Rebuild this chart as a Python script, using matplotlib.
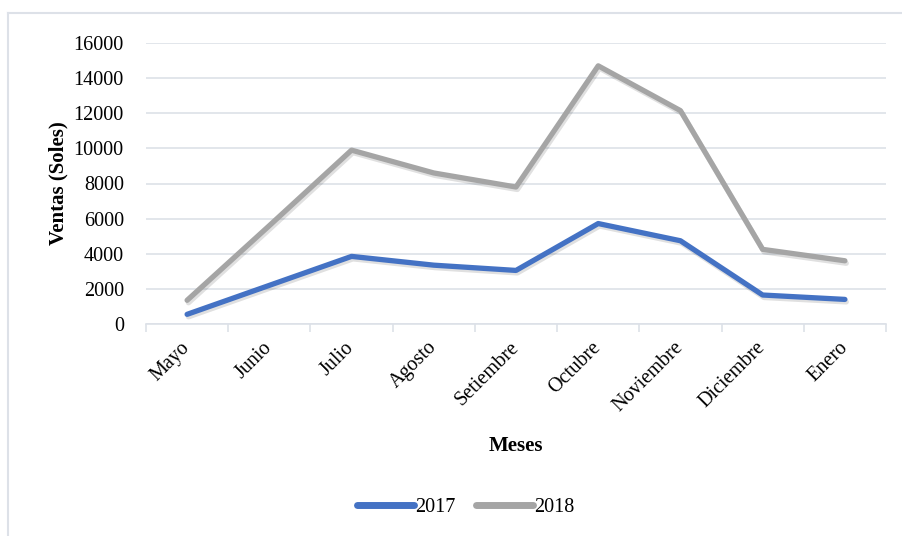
import matplotlib
matplotlib.use("Agg")
import matplotlib.pyplot as plt
import matplotlib.patheffects as pe
from matplotlib.lines import Line2D
import numpy as np

plt.rcParams['font.family'] = ['Liberation Serif', 'DejaVu Serif']

meses = ['Mayo', 'Junio', 'Julio', 'Agosto', 'Setiembre', 'Octubre',
         'Noviembre', 'Diciembre', 'Enero']
ventas_2017 = [550, 2200, 3850, 3350, 3050, 5720, 4740, 1650, 1400]
ventas_2018 = [1350, 5600, 9900, 8600, 7800, 14700, 12150, 4250, 3600]

fig = plt.figure(figsize=(9.03, 5.36), dpi=100)
ax = fig.add_axes([146/903, 1-324/536, (886-146)/903, (324-43)/536])

grid_col = '#DDE1E8'
shadow = [pe.SimpleLineShadow(offset=(1.0, -1.8), alpha=0.12, rho=0.5), pe.Normal()]

x = np.arange(len(meses))
ax.plot(x, ventas_2017, color='#4472C4', lw=3.8, solid_capstyle='round',
        solid_joinstyle='round', label='2017', path_effects=shadow, zorder=3)
ax.plot(x, ventas_2018, color='#A5A5A5', lw=3.8, solid_capstyle='round',
        solid_joinstyle='round', label='2018', path_effects=shadow, zorder=3)

ax.set_xlim(-0.5, len(meses) - 0.5)
ax.set_ylim(0, 16000)
ax.set_yticks(np.arange(0, 16001, 2000))
ax.yaxis.grid(True, color=grid_col, lw=1.2)
ax.set_axisbelow(True)

for s in ['top', 'right', 'left']:
    ax.spines[s].set_visible(False)
ax.spines['bottom'].set_color(grid_col)
ax.spines['bottom'].set_linewidth(1.2)

# category labels at centres, tick marks on the boundaries
ax.set_xticks(x)
ax.set_xticklabels(meses, rotation=45, ha='right', va='center',
                   rotation_mode='anchor', fontsize=14.5)
ax.tick_params(axis='x', which='major', length=0, pad=15)
ax.set_xticks(np.arange(-0.5, len(meses)), minor=True)
ax.tick_params(axis='x', which='minor', length=6, width=1.2, color=grid_col)
ax.tick_params(axis='y', length=0, labelsize=14.5, pad=16)

ax.set_xlabel('Meses', fontsize=15, fontweight='bold')
ax.set_ylabel('Ventas (Soles)', fontsize=15, fontweight='bold')
ax.xaxis.set_label_coords(0.5, -0.397)
ax.yaxis.set_label_coords(-0.105, 0.5)

leg = fig.legend(loc='center', bbox_to_anchor=(466/903, 1-507/536), ncol=2,
                 frameon=False, fontsize=14.5, handlelength=2.8,
                 handletextpad=0.1, columnspacing=1.0)
for h in leg.get_lines():
    h.set_linewidth(5)
    h.set_solid_capstyle('round')
    h.set_path_effects([])

# chart frame edges
fig.add_artist(Line2D([8/903, 8/903], [0, 1-13/536], transform=fig.transFigure,
                      color=grid_col, lw=1.5))
fig.add_artist(Line2D([8/903, 1], [1-13/536, 1-13/536], transform=fig.transFigure,
                      color=grid_col, lw=1.5))

fig.savefig('out.png', dpi=100)
